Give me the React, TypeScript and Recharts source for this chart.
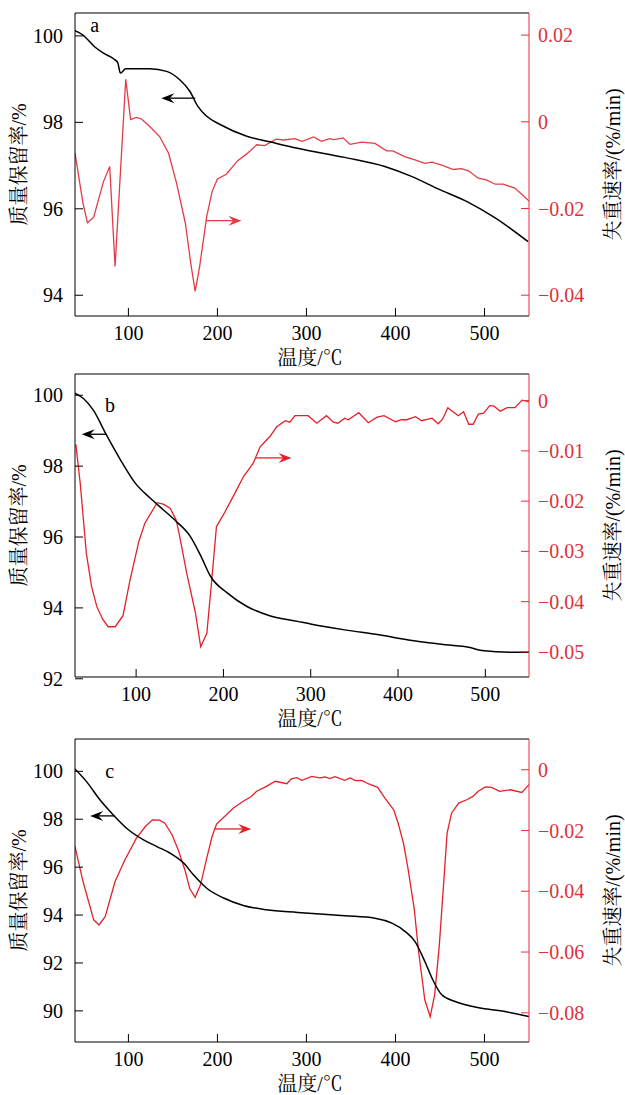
import React from 'react';
import { LineChart, Line, XAxis, YAxis, ReferenceLine, ReferenceDot } from 'recharts';

const SERIF = '"Liberation Serif", "Times New Roman", "Noto Serif CJK SC", "Noto Sans CJK SC", serif';
const AXIS_RED = '#e0303c';

// panel a
const aMassT = [40, 49, 62, 72, 84, 88, 91, 97, 124, 143, 158, 169, 178, 188, 203, 233, 259, 290, 343, 388, 418, 448, 482, 512, 549];
const aMass = [100.12, 100.02, 99.75, 99.6, 99.46, 99.38, 99.14, 99.24, 99.24, 99.18, 98.98, 98.72, 98.37, 98.14, 97.95, 97.68, 97.55, 97.4, 97.19, 96.98, 96.75, 96.46, 96.15, 95.79, 95.24];
const aRateT = [40, 49, 54, 61, 72, 79, 85, 97, 102.5, 109, 115, 124, 135, 145, 154, 164, 170, 175, 180, 188, 194, 200, 210, 223, 233, 244, 253, 266, 274, 287, 295, 308, 317, 326, 331, 341, 349, 362, 377, 390, 397, 411, 422, 433, 441, 452, 465, 474, 482, 493, 502, 512, 521, 534, 544, 550];
const aRate = [-0.0072, -0.0188, -0.0233, -0.022, -0.0138, -0.0103, -0.0334, 0.0098, 0.0005, 0.001, 0.0006, -0.0011, -0.0034, -0.0072, -0.0141, -0.0234, -0.0326, -0.0391, -0.0334, -0.0218, -0.0161, -0.0132, -0.0121, -0.0089, -0.0074, -0.0053, -0.0055, -0.004, -0.0042, -0.0039, -0.0045, -0.0035, -0.0045, -0.0039, -0.0041, -0.0037, -0.0052, -0.0047, -0.005, -0.0067, -0.0067, -0.0081, -0.0088, -0.0096, -0.0093, -0.01, -0.011, -0.0108, -0.0113, -0.013, -0.0134, -0.0144, -0.0144, -0.0153, -0.0171, -0.0183];

// panel b
const bMassT = [30, 40, 51, 66, 82, 99, 116, 131, 146, 162, 175, 185, 204, 227, 253, 285, 301, 339, 378, 416, 454, 481, 496, 530, 550];
const bMass = [100.06, 99.9, 99.58, 98.88, 98.18, 97.52, 97.1, 96.77, 96.44, 96.02, 95.42, 94.9, 94.43, 94.04, 93.78, 93.62, 93.54, 93.38, 93.24, 93.08, 92.96, 92.89, 92.8, 92.75, 92.75];
const bRateT = [31, 36, 43, 49, 55, 62, 68, 76, 85, 93, 103, 110, 118, 124, 131, 139, 146, 150, 158, 168, 174, 181, 187, 192, 201, 208, 215, 223, 234, 242, 253, 261, 271, 276, 282, 297, 307, 318, 326, 331, 339, 343, 355, 366, 376, 384, 397, 404, 410, 420, 427, 439, 446, 451, 457, 463, 469, 475, 481, 486, 492, 498, 505, 510, 517, 525, 534, 542, 550];
const bRate = [-0.0087, -0.0165, -0.0304, -0.037, -0.041, -0.0436, -0.045, -0.045, -0.0428, -0.0357, -0.0281, -0.0244, -0.0221, -0.0203, -0.0206, -0.0214, -0.0238, -0.0271, -0.0344, -0.0423, -0.049, -0.0463, -0.035, -0.0251, -0.0224, -0.0201, -0.0178, -0.0151, -0.0125, -0.0092, -0.0072, -0.0052, -0.004, -0.0043, -0.003, -0.003, -0.0045, -0.003, -0.0043, -0.0045, -0.0035, -0.0038, -0.0024, -0.0044, -0.0033, -0.003, -0.0042, -0.0038, -0.0038, -0.0032, -0.004, -0.0035, -0.0046, -0.0037, -0.0014, -0.0022, -0.003, -0.0022, -0.0047, -0.0047, -0.0027, -0.0025, -0.001, -0.0011, -0.0021, -0.0014, -0.0014, 0.0001, -0.0002];

// panel c
const cMassT = [40, 53, 68, 83, 100, 117, 132, 147, 162, 173, 188, 207, 229, 255, 290, 343, 377, 396, 411, 422, 433, 442, 452, 467, 497, 523, 550];
const cMass = [100.1, 99.57, 98.81, 98.18, 97.56, 97.14, 96.86, 96.58, 96.17, 95.68, 95.12, 94.71, 94.4, 94.22, 94.11, 93.97, 93.87, 93.66, 93.31, 92.89, 92.06, 91.29, 90.67, 90.39, 90.11, 89.97, 89.76];
const cRateT = [40, 49, 61, 67, 74, 85, 96, 109, 119, 127, 135, 141, 149, 156, 164, 169, 175, 181, 188, 194, 199, 208, 218, 229, 238, 244, 255, 265, 278, 283, 289, 295, 306, 315, 321, 326, 332, 343, 349, 355, 362, 370, 380, 388, 398, 403, 409, 414, 421, 426, 433, 439, 444, 449, 454, 458, 463, 471, 480, 487, 493, 501, 508, 517, 529, 542, 550];
const cRate = [-0.0253, -0.0368, -0.0494, -0.0511, -0.0483, -0.0368, -0.0297, -0.0225, -0.0187, -0.0165, -0.0166, -0.0176, -0.0214, -0.0264, -0.0335, -0.0392, -0.042, -0.0379, -0.0291, -0.022, -0.0179, -0.0154, -0.0126, -0.0104, -0.0088, -0.0071, -0.0055, -0.0038, -0.0046, -0.003, -0.0026, -0.0035, -0.0022, -0.0027, -0.0024, -0.0029, -0.0023, -0.0035, -0.0027, -0.0036, -0.0035, -0.0047, -0.0058, -0.0093, -0.0132, -0.0176, -0.0242, -0.0324, -0.0456, -0.0599, -0.0758, -0.0813, -0.0741, -0.0587, -0.0379, -0.0209, -0.0143, -0.011, -0.0099, -0.0088, -0.0071, -0.0057, -0.0058, -0.0071, -0.0066, -0.0075, -0.0049];

const tempTicks = [100, 200, 300, 400, 500];

const rows = (ts: number[], vs: number[]) => ts.map((t, i) => ({ t, v: vs[i] }));

const fmtRate = (v: number) => (v === 0 ? '0' : v.toFixed(2).replace('-', '\u2212'));

const arrowShape = (color: string) => (p: any) => {
  const { x1, y1, x2, y2 } = p;
  const dir = x2 > x1 ? 1 : -1;
  const len = 13;
  const back = x2 - dir * len;
  const notch = x2 - dir * len * 0.65;
  return (
    <g>
      <line x1={x1} y1={y1} x2={notch} y2={y2} stroke={color} strokeWidth={1.3} />
      <path d={`M${x2},${y2} L${back},${y2 - 5} L${notch},${y2} L${back},${y2 + 5} Z`} fill={color} />
    </g>
  );
};

type PanelProps = {
  top: number;
  tag: string;
  tagAt: [number, number];
  xDomain: [number, number];
  mDomain: [number, number];
  mTicks: number[];
  rDomain: [number, number];
  rTicks: number[];
  mass: { t: number; v: number }[];
  rate: { t: number; v: number }[];
  red: string;
  blackArrow: [number, number, number];
  redArrow: [number, number, number];
};

function Panel(props: PanelProps) {
  const { top, tag, tagAt, xDomain, mDomain, mTicks, rDomain, rTicks, mass, rate, red, blackArrow, redArrow } = props;
  const tickFont = { fontSize: 20, fontFamily: SERIF };
  return (
    <div style={{ position: 'absolute', left: 0, top }}>
      <LineChart width={625} height={374} margin={{ top: 13, right: 16, bottom: 9, left: 15 }}>
        <XAxis
          dataKey="t"
          type="number"
          domain={xDomain}
          ticks={tempTicks}
          allowDataOverflow
          height={49}
          stroke="#000"
          tickSize={-8}
          tickMargin={18}
          tick={{ ...tickFont, fill: '#000' }}
          label={(lp: any) => {
            const vb = lp.viewBox || { x: 75, y: 316, width: 454 };
            return (
              <text x={vb.x + vb.width / 2 + 8} y={vb.y + 42} textAnchor="middle" dominantBaseline="central" fontSize={20} fontFamily={SERIF} fill="#000">
                温度/℃
              </text>
            );
          }}
        />
        <YAxis
          yAxisId="m"
          orientation="left"
          type="number"
          domain={mDomain}
          ticks={mTicks}
          allowDataOverflow
          width={60}
          stroke="#000"
          tickSize={-8}
          tickMargin={20}
          tick={{ ...tickFont, fill: '#000' }}
          label={(lp: any) => {
            const vb = lp.viewBox || { x: 15, y: 13, height: 303 };
            const cx = vb.x + 4;
            const cy = vb.y + vb.height / 2;
            return (
              <text x={cx} y={cy} transform={`rotate(-90 ${cx} ${cy})`} textAnchor="middle" dominantBaseline="central" fontSize={20} fontFamily={SERIF} fill="#000">
                质量保留率/%
              </text>
            );
          }}
        />
        <YAxis
          yAxisId="r"
          orientation="right"
          type="number"
          domain={rDomain}
          ticks={rTicks}
          allowDataOverflow
          width={80}
          stroke={AXIS_RED}
          tickSize={-8}
          tickMargin={17}
          tickFormatter={fmtRate}
          tick={{ ...tickFont, fill: AXIS_RED }}
          label={(lp: any) => {
            const vb = lp.viewBox || { x: 529, y: 13, height: 303 };
            const cx = vb.x + 84;
            const cy = vb.y + vb.height / 2;
            return (
              <text x={cx} y={cy} transform={`rotate(-90 ${cx} ${cy})`} textAnchor="middle" dominantBaseline="central" fontSize={20} fontFamily={SERIF} fill="#000">
                失重速率/(%/min)
              </text>
            );
          }}
        />
        <ReferenceLine yAxisId="m" y={mDomain[1]} stroke="#000" strokeWidth={1} />
        <Line data={rate} dataKey="v" yAxisId="r" type="linear" stroke={red} strokeWidth={1.3} dot={false} isAnimationActive={false} />
        <Line data={mass} dataKey="v" yAxisId="m" type="monotone" stroke="#000" strokeWidth={1.5} dot={false} isAnimationActive={false} />
        <ReferenceLine
          yAxisId="m"
          segment={[{ x: blackArrow[0], y: blackArrow[2] }, { x: blackArrow[1], y: blackArrow[2] }]}
          shape={arrowShape('#000')}
        />
        <ReferenceLine
          yAxisId="r"
          segment={[{ x: redArrow[0], y: redArrow[2] }, { x: redArrow[1], y: redArrow[2] }]}
          shape={arrowShape(red)}
        />
        <ReferenceDot
          yAxisId="m"
          x={tagAt[0]}
          y={tagAt[1]}
          r={0}
          shape={(p: any) => (
            <text x={p.cx} y={p.cy} textAnchor="middle" dominantBaseline="central" fontSize={20} fontFamily={SERIF} fill="#000">
              {tag}
            </text>
          )}
        />
      </LineChart>
    </div>
  );
}

export default function App() {
  return (
    <div style={{ position: 'absolute', left: 0, top: 0, width: 625, height: 1095, background: '#fff' }}>
      <Panel
        top={0}
        tag="a"
        tagAt={[62, 100.25]}
        xDomain={[40, 550]}
        mDomain={[93.52, 100.53]}
        mTicks={[94, 96, 98, 100]}
        rDomain={[-0.0448, 0.0251]}
        rTicks={[-0.04, -0.02, 0, 0.02]}
        mass={rows(aMassT, aMass)}
        rate={rows(aRateT, aRate)}
        red="#e23c48"
        blackArrow={[175, 137, 98.56]}
        redArrow={[187, 227, -0.0228]}
      />
      <Panel
        top={361}
        tag="b"
        tagAt={[70, 99.72]}
        xDomain={[30, 550]}
        mDomain={[92.05, 100.6]}
        mTicks={[92, 94, 96, 98, 100]}
        rDomain={[-0.055, 0.0053]}
        rTicks={[-0.05, -0.04, -0.03, -0.02, -0.01, 0]}
        mass={rows(bMassT, bMass)}
        rate={rows(bRateT, bRate)}
        red="#e3212b"
        blackArrow={[66, 37.7, 98.9]}
        redArrow={[237, 278, -0.0114]}
      />
      <Panel
        top={726}
        tag="c"
        tagAt={[79, 100]}
        xDomain={[40, 550]}
        mDomain={[88.7, 101.35]}
        mTicks={[90, 92, 94, 96, 98, 100]}
        rDomain={[-0.0896, 0.0101]}
        rTicks={[-0.08, -0.06, -0.04, -0.02, 0]}
        mass={rows(cMassT, cMass)}
        rate={rows(cRateT, cRate)}
        red="#e3212b"
        blackArrow={[85, 57, 98.14]}
        redArrow={[197, 238, -0.0195]}
      />
    </div>
  );
}
